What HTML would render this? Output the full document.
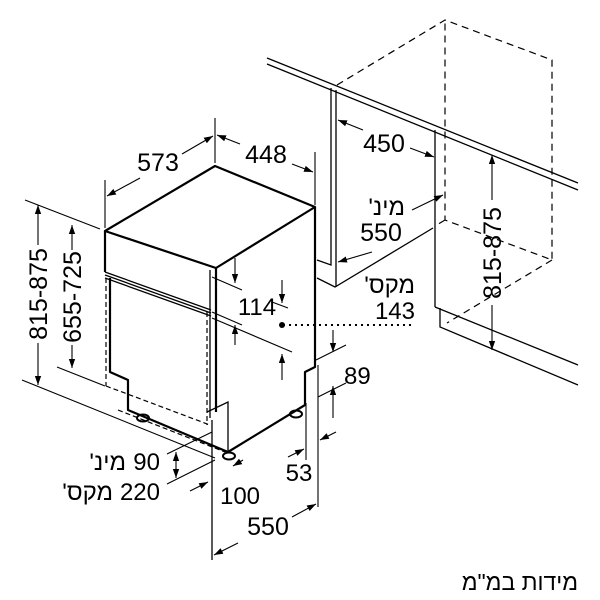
<!DOCTYPE html>
<html><head><meta charset="utf-8"><style>
html,body{margin:0;padding:0;background:#fff}
svg{display:block}
text{font-family:"Liberation Sans","Noto Sans CJK JP",sans-serif;fill:#000}
</style></head><body>
<svg width="600" height="600" viewBox="0 0 600 600" xmlns="http://www.w3.org/2000/svg">
<defs>
<marker id="a" viewBox="0 0 10 10" refX="10" refY="5" markerWidth="9" markerHeight="9" markerUnits="userSpaceOnUse" orient="auto-start-reverse">
<path d="M0,1.5 L10,5 L0,8.5 z" fill="#000"/></marker>
</defs>
<g fill="none" stroke="#000" stroke-width="1.3">
<line x1="267" y1="58" x2="578" y2="183"/>
<line x1="267" y1="64" x2="578" y2="190"/>
<line x1="331" y1="88" x2="331" y2="260"/>
<line x1="336" y1="90" x2="336" y2="287"/>
<polyline points="317,260 331,265 331,260"/>
<polyline points="317,278 335,287 433,228"/>
<line x1="435" y1="130" x2="435" y2="307"/>
<polyline points="435,307 578,365"/>
<polyline points="440,308 440,327 578,385"/>
</g>
<g fill="none" stroke="#000" stroke-width="1.2" stroke-dasharray="7,5">
<polyline points="337,85 445,20 552,60 552,260 445,220 445,20"/>
<line x1="445" y1="220" x2="435" y2="226"/>
<line x1="552" y1="260" x2="447" y2="323"/>
</g>
<g fill="none" stroke="#000" stroke-width="2.2" stroke-linejoin="round">
<polygon points="105,231 215,166 315,207 216,268"/>
<polyline points="105,231 105,272"/>
<polyline points="315,207 315,367 305,372 305,405 228,452 128,410 128,380 110,372 110,278"/>
<line x1="216" y1="268" x2="216" y2="412"/>
</g>
<g fill="none" stroke="#000" stroke-width="1.3">
<line x1="105" y1="272" x2="211" y2="310"/>
<line x1="105" y1="275" x2="211" y2="313"/>
<line x1="105" y1="278" x2="211" y2="316"/>
<line x1="210" y1="270" x2="210" y2="418"/>
<polyline points="207,412 228,402 228,452"/>
<line x1="212" y1="420" x2="212" y2="560"/>
<ellipse cx="143" cy="418" rx="6" ry="3.5" stroke-width="2"/>
<ellipse cx="229" cy="456" rx="6" ry="3.5" stroke-width="2"/>
<ellipse cx="296" cy="414" rx="6" ry="3.5" stroke-width="2"/>
</g>
<g fill="none" stroke="#000" stroke-width="1.2" stroke-dasharray="5,3">
<line x1="106" y1="278" x2="106" y2="386"/>
<line x1="106" y1="386" x2="210" y2="425"/>
<line x1="207" y1="312" x2="207" y2="425"/>
<line x1="118" y1="410" x2="225" y2="452"/>
</g>
<g fill="none" stroke="#000" stroke-width="1.1">
<line x1="105" y1="180" x2="105" y2="228"/>
<line x1="215" y1="118" x2="215" y2="163"/>
<line x1="315" y1="152" x2="315" y2="205"/>
<line x1="107" y1="196" x2="140" y2="178" marker-start="url(#a)"/>
<line x1="182" y1="154" x2="213" y2="136" marker-end="url(#a)"/>
<line x1="217" y1="135" x2="240" y2="144" marker-start="url(#a)"/>
<line x1="292" y1="164" x2="313" y2="172" marker-end="url(#a)"/>
<line x1="25" y1="200" x2="100" y2="229"/>
<line x1="22" y1="380" x2="215" y2="458"/>
<line x1="38" y1="245" x2="38" y2="205" marker-end="url(#a)"/>
<line x1="38" y1="343" x2="38" y2="385" marker-end="url(#a)"/>
<line x1="57" y1="367" x2="105" y2="386"/>
<line x1="72" y1="250" x2="72" y2="225" marker-end="url(#a)"/>
<line x1="72" y1="345" x2="72" y2="368" marker-end="url(#a)"/>
<line x1="212" y1="277" x2="242" y2="290"/>
<line x1="235" y1="258" x2="235" y2="283" marker-end="url(#a)"/>
<line x1="212" y1="312" x2="242" y2="325"/>
<line x1="235" y1="345" x2="235" y2="325" marker-end="url(#a)"/>
<line x1="272" y1="302" x2="288" y2="308"/>
<line x1="282" y1="280" x2="282" y2="303" marker-end="url(#a)"/>
<line x1="212" y1="318" x2="292" y2="352"/>
<line x1="282" y1="380" x2="282" y2="354" marker-end="url(#a)"/>
<line x1="316" y1="360" x2="346" y2="345"/>
<line x1="333" y1="330" x2="333" y2="352" marker-end="url(#a)"/>
<line x1="318" y1="397" x2="346" y2="383"/>
<line x1="333" y1="418" x2="333" y2="386" marker-end="url(#a)"/>
<line x1="318" y1="365" x2="318" y2="507"/>
<line x1="306" y1="403" x2="306" y2="460"/>
<line x1="288" y1="457" x2="304" y2="449" marker-end="url(#a)"/>
<line x1="336" y1="432" x2="320" y2="440" marker-end="url(#a)"/>
<line x1="214" y1="555" x2="238" y2="543" marker-start="url(#a)"/>
<line x1="292" y1="517" x2="316" y2="504" marker-end="url(#a)"/>
<line x1="243" y1="460" x2="233" y2="466" marker-end="url(#a)"/>
<line x1="190" y1="491" x2="208" y2="482" marker-end="url(#a)"/>
<line x1="167" y1="454" x2="212" y2="432"/>
<line x1="167" y1="484" x2="215" y2="460"/>
<line x1="176" y1="452" x2="176" y2="478" marker-start="url(#a)" marker-end="url(#a)"/>
<line x1="363" y1="130" x2="338" y2="120" marker-end="url(#a)"/>
<line x1="410" y1="148" x2="434" y2="157" marker-end="url(#a)"/>
<line x1="412" y1="210" x2="443" y2="195" marker-end="url(#a)"/>
<line x1="372" y1="252" x2="338" y2="262" marker-end="url(#a)"/>
<line x1="492" y1="200" x2="492" y2="155" marker-end="url(#a)"/>
<line x1="492" y1="305" x2="492" y2="350" marker-end="url(#a)"/>
</g>
<line x1="283" y1="325" x2="415" y2="325" stroke="#000" stroke-width="2" stroke-dasharray="2,4"/>
<circle cx="282" cy="325" r="3" fill="#000"/>
<g font-size="25">
<text x="158" y="171" text-anchor="middle">573</text>
<text x="266" y="163" text-anchor="middle">448</text>
<text x="257" y="315" text-anchor="middle" font-size="24">114</text>
<text x="344" y="384" font-size="24">89</text>
<text x="299" y="481" text-anchor="middle" font-size="24">53</text>
<text x="240" y="504" text-anchor="middle" font-size="24">100</text>
<text x="268" y="535" text-anchor="middle">550</text>
<text x="384" y="152" text-anchor="middle">450</text>
<text x="405" y="215" text-anchor="start" font-size="24" direction="rtl" unicode-bidi="embed">מינ'</text>
<text x="381" y="241" text-anchor="middle">550</text>
<text x="415" y="293" text-anchor="start" font-size="24" direction="rtl" unicode-bidi="embed">מקס'</text>
<text x="415" y="319" text-anchor="end" font-size="24">143</text>
<text x="160" y="470" text-anchor="end" font-size="24">90</text>
<text x="126" y="470" text-anchor="start" font-size="24" direction="rtl" unicode-bidi="embed">מינ'</text>
<text x="160" y="500" text-anchor="end" font-size="24">220</text>
<text x="113" y="500" text-anchor="start" font-size="24" direction="rtl" unicode-bidi="embed">מקס'</text>
<text transform="translate(47,294) rotate(-90)" text-anchor="middle">815-875</text>
<text transform="translate(81,297) rotate(-90)" text-anchor="middle">655-725</text>
<text transform="translate(501,253) rotate(-90)" text-anchor="middle">815-875</text>
<text x="578" y="590" text-anchor="start" font-size="23" direction="rtl" unicode-bidi="embed">מידות במ"מ</text>
</g>
</svg>
</body></html>
